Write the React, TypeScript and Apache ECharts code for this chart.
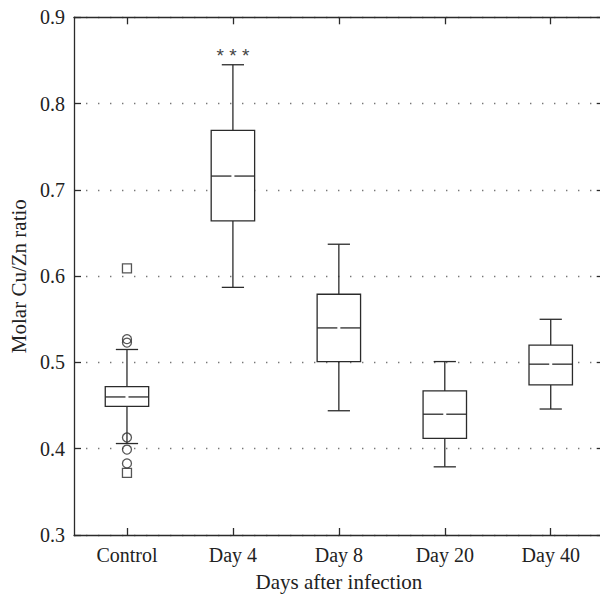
import React, { useEffect, useRef } from "react";
import * as echarts from "echarts";

const categories = ["Control", "Day 4", "Day 8", "Day 20", "Day 40"];
// [low whisker, Q1, median, Q3, high whisker]
const lowWhisker = [0.406, 0.587, 0.444, 0.379, 0.446];
const q1Values = [0.449, 0.664, 0.501, 0.412, 0.474];
const medianValues = [0.460, 0.716, 0.540, 0.440, 0.498];
const q3Values = [0.472, 0.769, 0.579, 0.467, 0.520];
const highWhisker = [0.515, 0.845, 0.637, 0.501, 0.550];

const circleOutliers: [string, number][] = [
  ["Control", 0.527],
  ["Control", 0.523],
  ["Control", 0.413],
  ["Control", 0.399],
  ["Control", 0.383],
];
const squareOutliers: [string, number][] = [
  ["Control", 0.609],
  ["Control", 0.372],
];
const annotations: [string, number, string][] = [["Day 4", 0.858, "***"]];

const yTicks = { min: 0.3, max: 0.9, interval: 0.1 };

const INK = "#2b2b2b";
const FONT = "Liberation Serif";

export default function App() {
  const ref = useRef<HTMLDivElement>(null);
  useEffect(() => {
    document.body.style.margin = "0";
    if (!ref.current) return;
    const chart = echarts.init(ref.current, null, { renderer: "svg" });

    const boxData = categories.map((c, i) => [
      i,
      lowWhisker[i],
      q1Values[i],
      medianValues[i],
      q3Values[i],
      highWhisker[i],
    ]);

    const lineStyle = { stroke: INK, lineWidth: 1.3 };

    const option: any = {
      animation: false,
      backgroundColor: "#fff",
      grid: {
        left: 74,
        top: 17.3,
        right: -3.7,
        bottom: 64,
        containLabel: false,
        outerBoundsMode: "none",
      },
      xAxis: [
        {
          type: "category",
          data: categories,
          position: "bottom",
          boundaryGap: true,
          axisLine: { show: true, lineStyle: { color: INK, width: 1.3 } },
          axisTick: { show: true, inside: true, alignWithLabel: true, length: 7, lineStyle: { color: INK, width: 1.3 } },
          axisLabel: { color: "#222", fontFamily: FONT, fontSize: 20, margin: 10 },
          name: "Days after infection",
          nameLocation: "middle",
          nameGap: 36,
          nameTextStyle: { color: "#222", fontFamily: FONT, fontSize: 21 },
          splitLine: { show: false },
        },
        {
          type: "category",
          data: categories,
          position: "top",
          boundaryGap: true,
          axisLine: { show: true, lineStyle: { color: INK, width: 1.3 } },
          axisTick: { show: true, inside: true, alignWithLabel: true, length: 7, lineStyle: { color: INK, width: 1.3 } },
          axisLabel: { show: false },
          splitLine: { show: false },
        },
      ],
      yAxis: [
        {
          type: "value",
          min: yTicks.min,
          max: yTicks.max,
          interval: yTicks.interval,
          position: "left",
          axisLine: { show: true, lineStyle: { color: INK, width: 1.3 } },
          axisTick: { show: true, inside: true, length: 7, lineStyle: { color: INK, width: 1.3 } },
          axisLabel: {
            color: "#222",
            fontFamily: FONT,
            fontSize: 20,
            margin: 9,
            formatter: (v: number) => v.toFixed(1),
          },
          splitLine: {
            show: true,
            lineStyle: { color: "#777", width: 1.4, type: [1.4, 10.6] },
          },
          name: "Molar Cu/Zn ratio",
          nameLocation: "middle",
          nameGap: 45,
          nameRotate: 90,
          nameTextStyle: { color: "#222", fontFamily: FONT, fontSize: 21 },
        },
        {
          type: "value",
          min: yTicks.min,
          max: yTicks.max,
          interval: yTicks.interval,
          position: "right",
          axisLine: { show: true, lineStyle: { color: INK, width: 1.3 } },
          axisTick: { show: true, inside: true, length: 7, lineStyle: { color: INK, width: 1.3 } },
          axisLabel: { show: false },
          splitLine: { show: false },
        },
      ],
      series: [
        {
          type: "custom",
          xAxisIndex: 0,
          yAxisIndex: 0,
          data: boxData,
          encode: { x: 0, y: [1, 2, 3, 4, 5] },
          z: 3,
          renderItem: (_params: any, api: any) => {
            const idx = api.value(0);
            const pLow = api.coord([idx, api.value(1)]);
            const pQ1 = api.coord([idx, api.value(2)]);
            const pMed = api.coord([idx, api.value(3)]);
            const pQ3 = api.coord([idx, api.value(4)]);
            const pHigh = api.coord([idx, api.value(5)]);
            const band = api.size([1, 0])[0];
            const bw = band * 0.41;
            const cw = band * 0.21;
            const cx = pLow[0];
            const gap = 1.5;
            return {
              type: "group",
              children: [
                { type: "line", shape: { x1: cx, y1: pHigh[1], x2: cx, y2: pQ3[1] }, style: lineStyle },
                { type: "line", shape: { x1: cx, y1: pQ1[1], x2: cx, y2: pLow[1] }, style: lineStyle },
                { type: "line", shape: { x1: cx - cw / 2, y1: pHigh[1], x2: cx + cw / 2, y2: pHigh[1] }, style: lineStyle },
                { type: "line", shape: { x1: cx - cw / 2, y1: pLow[1], x2: cx + cw / 2, y2: pLow[1] }, style: lineStyle },
                {
                  type: "rect",
                  shape: { x: cx - bw / 2, y: pQ3[1], width: bw, height: pQ1[1] - pQ3[1] },
                  style: { fill: "#fff", stroke: INK, lineWidth: 1.3 },
                },
                { type: "line", shape: { x1: cx - bw / 2, y1: pMed[1], x2: cx - gap, y2: pMed[1] }, style: lineStyle },
                { type: "line", shape: { x1: cx + gap, y1: pMed[1], x2: cx + bw / 2, y2: pMed[1] }, style: lineStyle },
              ],
            };
          },
        },
        {
          type: "scatter",
          xAxisIndex: 0,
          yAxisIndex: 0,
          data: circleOutliers,
          symbol: "circle",
          symbolSize: 9,
          z: 4,
          itemStyle: { color: "rgba(255,255,255,0)", borderColor: INK, borderWidth: 1.3 },
        },
        {
          type: "scatter",
          xAxisIndex: 0,
          yAxisIndex: 0,
          data: squareOutliers,
          symbol: "rect",
          symbolSize: 9,
          z: 4,
          itemStyle: { color: "rgba(255,255,255,0)", borderColor: INK, borderWidth: 1.3 },
        },
        {
          type: "custom",
          xAxisIndex: 0,
          yAxisIndex: 0,
          data: annotations.map((a) => [categories.indexOf(a[0]), a[1]]),
          encode: { x: 0, y: 1 },
          z: 5,
          renderItem: (params: any, api: any) => {
            const p = api.coord([api.value(0), api.value(1)]);
            const chars = annotations[params.dataIndex][2].split("");
            const step = 12.8;
            const start = -((chars.length - 1) * step) / 2;
            return {
              type: "group",
              children: chars.map((ch, k) => ({
                type: "text",
                x: p[0] + start + k * step,
                y: p[1] + 2,
                style: {
                  text: ch,
                  fontFamily: "Liberation Sans",
                  fontSize: 19,
                  fill: "#444",
                  align: "center",
                  verticalAlign: "middle",
                },
              })),
            };
          },
        },
      ],
    };
    chart.setOption(option);
    return () => chart.dispose();
  }, []);
  return <div ref={ref} style={{ width: 600, height: 599 }} />;
}
